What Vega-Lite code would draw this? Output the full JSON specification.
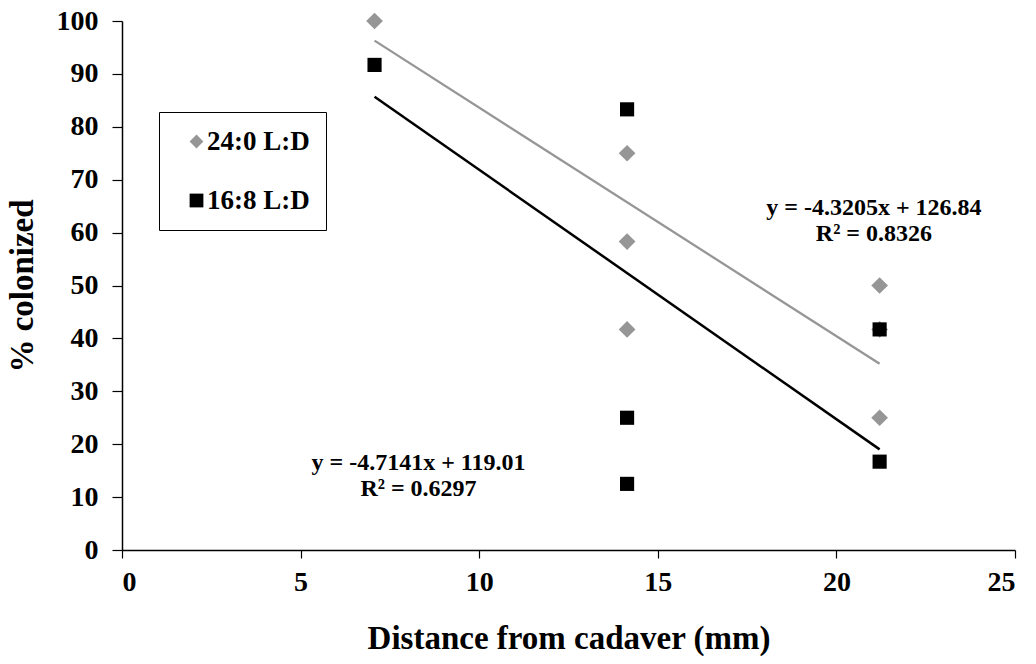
{
  "$schema": "https://vega.github.io/schema/vega-lite/v6.json",
  "width": 893,
  "height": 529,
  "autosize": {"type": "none"},
  "padding": {"left": 122, "top": 21, "right": 21, "bottom": 114},
  "background": "white",
  "config": {
    "view": {"stroke": null},
    "axis": {
      "grid": false,
      "domainColor": "black",
      "domainWidth": 1.5,
      "tickColor": "black",
      "tickWidth": 1.2,
      "labelFont": "Liberation Serif",
      "labelFontWeight": "bold",
      "labelFontSize": 28,
      "labelColor": "black",
      "titleFont": "Liberation Serif",
      "titleFontWeight": "bold",
      "titleFontSize": 33,
      "titleColor": "black"
    },
    "legend": {
      "labelFont": "Liberation Serif",
      "labelFontWeight": "bold",
      "labelFontSize": 27,
      "labelColor": "black"
    }
  },
  "datasets": {
    "points": [
      {"distance": 7.07, "colonized": 100, "series": "24:0 L:D"},
      {"distance": 14.14, "colonized": 75, "series": "24:0 L:D"},
      {"distance": 14.14, "colonized": 58.3, "series": "24:0 L:D"},
      {"distance": 14.14, "colonized": 41.7, "series": "24:0 L:D"},
      {"distance": 21.21, "colonized": 50, "series": "24:0 L:D"},
      {"distance": 21.21, "colonized": 41.7, "series": "24:0 L:D"},
      {"distance": 21.21, "colonized": 25, "series": "24:0 L:D"},
      {"distance": 7.07, "colonized": 91.7, "series": "16:8 L:D"},
      {"distance": 14.14, "colonized": 83.3, "series": "16:8 L:D"},
      {"distance": 14.14, "colonized": 25, "series": "16:8 L:D"},
      {"distance": 14.14, "colonized": 12.5, "series": "16:8 L:D"},
      {"distance": 21.21, "colonized": 41.7, "series": "16:8 L:D"},
      {"distance": 21.21, "colonized": 16.7, "series": "16:8 L:D"}
    ],
    "trends": [
      {"distance": 7.07, "colonized": 96.29, "series": "24:0 L:D"},
      {"distance": 21.21, "colonized": 35.2, "series": "24:0 L:D"},
      {"distance": 7.07, "colonized": 85.68, "series": "16:8 L:D"},
      {"distance": 21.21, "colonized": 19.02, "series": "16:8 L:D"}
    ],
    "labels": [
      {"distance": 21.05, "colonized": 64.6, "label": "y = -4.3205x + 126.84"},
      {"distance": 21.05, "colonized": 59.7, "label": "R² = 0.8326"},
      {"distance": 8.3, "colonized": 16.5, "label": "y = -4.7141x + 119.01"},
      {"distance": 8.3, "colonized": 11.6, "label": "R² = 0.6297"}
    ]
  },
  "layer": [
    {
      "data": {"name": "trends"},
      "transform": [{"filter": "datum.series === '24:0 L:D'"}],
      "mark": {"type": "line", "strokeWidth": 2.3, "color": "#969696"},
      "encoding": {
        "x": {"field": "distance", "type": "quantitative", "scale": {"domain": [0, 25], "nice": false},
          "axis": {"values": [0, 5, 10, 15, 20, 25], "tickSize": 8, "labelPadding": 10, "title": "Distance from cadaver (mm)", "titlePadding": 26}},
        "y": {"field": "colonized", "type": "quantitative", "scale": {"domain": [0, 100], "nice": false},
          "axis": {"values": [0, 10, 20, 30, 40, 50, 60, 70, 80, 90, 100], "tickSize": 10, "labelPadding": 14, "title": "% colonized", "titlePadding": 17}}
      }
    },
    {
      "data": {"name": "trends"},
      "transform": [{"filter": "datum.series === '16:8 L:D'"}],
      "mark": {"type": "line", "strokeWidth": 2.5, "color": "#000000"},
      "encoding": {
        "x": {"field": "distance", "type": "quantitative"},
        "y": {"field": "colonized", "type": "quantitative"}
      }
    },
    {
      "data": {"name": "points"},
      "transform": [{"filter": "datum.series === '24:0 L:D'"}],
      "mark": {"type": "point", "filled": true, "opacity": 1, "size": 280},
      "encoding": {
        "x": {"field": "distance", "type": "quantitative"},
        "y": {"field": "colonized", "type": "quantitative"},
        "color": {"field": "series", "type": "nominal", "scale": {"domain": ["24:0 L:D", "16:8 L:D"], "range": ["#969696", "#000000"]},
          "legend": {"title": null, "orient": "none", "legendX": 37, "legendY": 91, "strokeColor": "black", "padding": 16, "symbolOffset": 8, "symbolSize": 190, "rowPadding": 31, "labelOffset": -3}},
        "shape": {"field": "series", "type": "nominal", "scale": {"domain": ["24:0 L:D", "16:8 L:D"], "range": ["diamond", "square"]}}
      }
    },
    {
      "data": {"name": "points"},
      "transform": [{"filter": "datum.series === '16:8 L:D'"}],
      "mark": {"type": "point", "filled": true, "opacity": 1, "size": 200},
      "encoding": {
        "x": {"field": "distance", "type": "quantitative"},
        "y": {"field": "colonized", "type": "quantitative"},
        "color": {"field": "series", "type": "nominal"},
        "shape": {"field": "series", "type": "nominal"}
      }
    },
    {
      "data": {"name": "labels"},
      "mark": {"type": "text", "font": "Liberation Serif", "fontWeight": "bold", "fontSize": 24, "color": "black", "align": "center", "baseline": "middle"},
      "encoding": {
        "x": {"field": "distance", "type": "quantitative"},
        "y": {"field": "colonized", "type": "quantitative"},
        "text": {"field": "label"}
      }
    }
  ]
}
